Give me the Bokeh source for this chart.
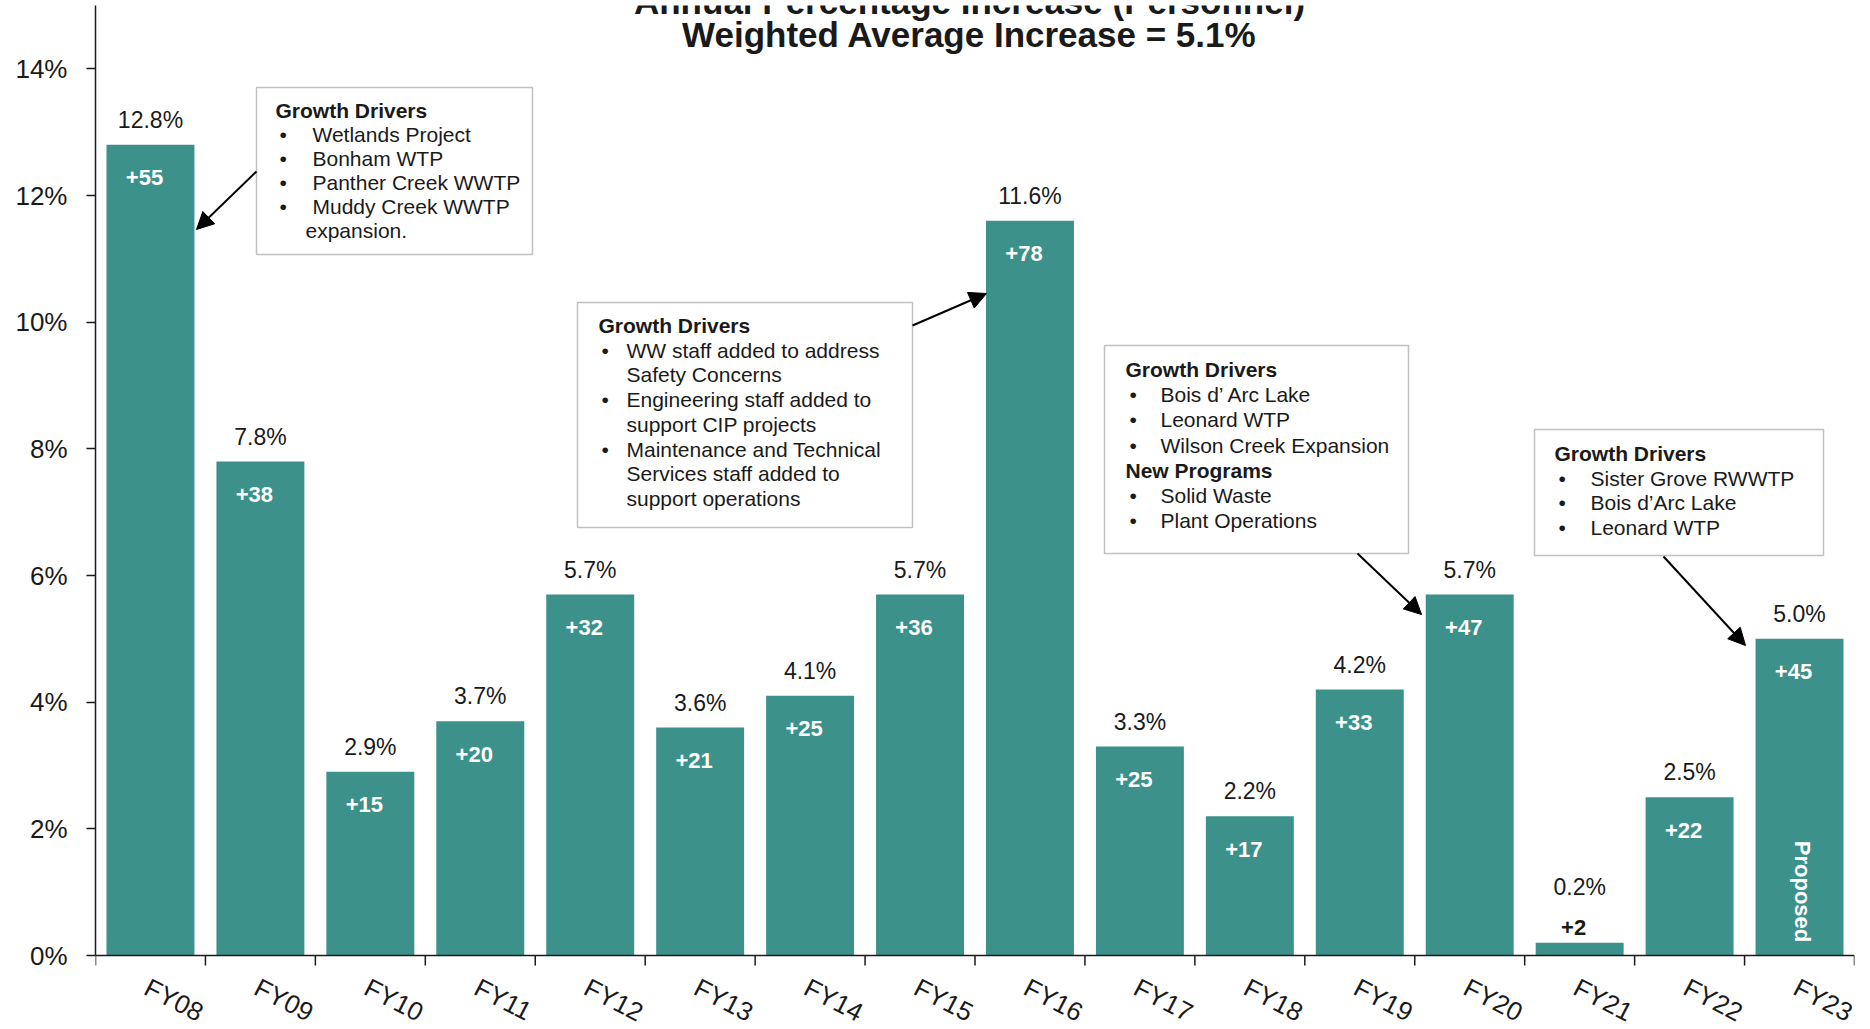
from math import pi

import numpy as np
from bokeh.core.properties import value
from bokeh.embed import file_html
from bokeh.models import (Arrow, BoxAnnotation, ColumnDataSource, FixedTicker,
                          Label, NormalHead, Range1d, Span)
from bokeh.plotting import figure
from bokeh.resources import INLINE

# ---- data -----------------------------------------------------------------
years = ["FY08", "FY09", "FY10", "FY11", "FY12", "FY13", "FY14", "FY15",
         "FY16", "FY17", "FY18", "FY19", "FY20", "FY21", "FY22", "FY23"]
pct_increase = [12.8, 7.8, 2.9, 3.7, 5.7, 3.6, 4.1, 5.7,
                11.6, 3.3, 2.2, 4.2, 5.7, 0.2, 2.5, 5.0]
staff_added = [55, 38, 15, 20, 32, 21, 25, 36, 78, 25, 17, 33, 47, 2, 22, 45]
y_ticks = [0, 2, 4, 6, 8, 10, 12, 14]
y_tick_labels = ["0%", "2%", "4%", "6%", "8%", "10%", "12%", "14%"]

title_line1 = "Annual Percentage Increase (Personnel)"
title_line2 = "Weighted Average Increase = 5.1%"
proposed_text = "Proposed"

box_fy08 = [("h", "Growth Drivers"), ("b", "Wetlands Project"), ("b", "Bonham WTP"),
            ("b", "Panther Creek WWTP"), ("b", "Muddy Creek WWTP"), ("c", "expansion.")]
box_fy16 = [("h", "Growth Drivers"), ("b", "WW staff added to address"),
            ("c", "Safety Concerns"), ("b", "Engineering staff added to"),
            ("c", "support CIP projects"), ("b", "Maintenance and Technical"),
            ("c", "Services staff added to"), ("c", "support operations")]
box_fy20 = [("h", "Growth Drivers"), ("b", "Bois d\u2019 Arc Lake"), ("b", "Leonard WTP"),
            ("b", "Wilson Creek Expansion"), ("h", "New Programs"),
            ("b", "Solid Waste"), ("b", "Plant Operations")]
box_fy23 = [("h", "Growth Drivers"), ("b", "Sister Grove RWWTP"),
            ("b", "Bois d\u2019Arc Lake"), ("b", "Leonard WTP")]

# ---- layout ---------------------------------------------------------------
W, H = 1870, 1029
FL, FR, FT = 95, 1854, 5      # plot area edges (pixels)
BASE = 955                    # pixel row of the 0% baseline
Y_MAX = 15
FONT = "Liberation Sans"
BAR = "#3c918a"
INK = "#1a1a1a"
n = len(years)


def px_x(px):
    return (px - FL) / (FR - FL) * n


def px_y(py):
    return (BASE - py) / (BASE - FT) * Y_MAX


# the plot area runs to the bottom of the canvas so the category names
# (drawn as text below the baseline) stay visible
p = figure(width=W, height=H, output_backend="svg", toolbar_location=None,
           x_range=Range1d(0, n), y_range=Range1d(px_y(H), Y_MAX),
           x_axis_location=None,
           min_border_left=FL, min_border_right=W - FR,
           min_border_top=FT, min_border_bottom=0)
p.outline_line_color = None
p.xgrid.grid_line_color = None
p.ygrid.grid_line_color = None
p.background_fill_color = "white"
p.border_fill_color = "white"

centers = np.arange(n) + 0.5
short = [v < 1 for v in pct_increase]
src = ColumnDataSource(dict(
    x=centers,
    top=pct_increase,
    pct=[f"{v:.1f}%" for v in pct_increase],
    cnt=[f"+{c}" for c in staff_added],
    pct_off=[-56 if s else -25 for s in short],
    cnt_off=[-15 if s else 33 for s in short],
    cnt_col=[INK if s else "white" for s in short],
))

p.vbar(x="x", top="top", width=0.8, bottom=0, source=src,
       fill_color=BAR, line_color=None)

p.text(x="x", y="top", text="pct", y_offset="pct_off", source=src,
       text_font=value(FONT), text_font_size="23px", text_color=INK,
       text_align="center", text_baseline="middle")
p.text(x="x", y="top", text="cnt", y_offset="cnt_off", x_offset=-6, source=src,
       text_font=value(FONT), text_font_size="22px", text_font_style="bold",
       text_color="cnt_col", text_align="center", text_baseline="middle")
p.text(x=[centers[-1]], y=[0], text=[proposed_text], angle=-pi / 2,
       x_offset=3, y_offset=-64,
       text_font=value(FONT), text_font_size="22px", text_font_style="bold",
       text_color="white", text_align="center", text_baseline="middle")

# ---- category axis: baseline, boundary ticks, slanted names ---------------
p.add_layout(Span(location=0, dimension="width", line_color=INK,
                  line_width=1.5))
bounds = np.arange(n + 1)
p.segment(x0=bounds, x1=bounds, y0=0, y1=px_y(BASE + 10),
          line_color=INK, line_width=1.5)
p.text(x=centers, y=px_y(985), text=years, x_offset=-4, angle=-0.48,
       text_font=value(FONT), text_font_size="26px", text_color=INK,
       text_align="left", text_baseline="middle")

# ---- value axis -----------------------------------------------------------
ya = p.yaxis[0]
ya.bounds = (0, Y_MAX)
ya.ticker = FixedTicker(ticks=y_ticks, minor_ticks=[])
ya.major_label_overrides = {t: s for t, s in zip(y_ticks, y_tick_labels)}
ya.major_tick_line_color = INK
ya.major_tick_line_width = 1.5
ya.major_tick_out = 9
ya.major_tick_in = 0
ya.axis_line_color = INK
ya.axis_line_width = 1.5
ya.major_label_standoff = 19
ya.major_label_text_font = FONT
ya.major_label_text_font_size = "26px"
ya.major_label_text_color = INK

# ---- titles ---------------------------------------------------------------
for txt, mid in ((title_line1, 1), (title_line2, 34)):
    p.add_layout(Label(x=px_x(969), y=px_y(mid), text=txt,
                       text_font=FONT, text_font_size="35px",
                       text_font_style="bold", text_color=INK,
                       text_align="center", text_baseline="middle"))


# ---- call-out boxes -------------------------------------------------------
def callout(lines, box, x_head, x_bullet, x_text, x_cont, y_first, step,
            arrow_from, arrow_to):
    left, top, right, bottom = box
    p.add_layout(BoxAnnotation(left=px_x(left), right=px_x(right),
                               top=px_y(top), bottom=px_y(bottom),
                               fill_color="white", fill_alpha=1,
                               line_color="#333333", line_width=1.5,
                               level="annotation"))
    for i, (kind, txt) in enumerate(lines):
        yy = px_y(y_first + i * step)
        common = dict(y=yy, text_font=FONT, text_font_size="21px",
                      text_color=INK, text_baseline="middle",
                      text_align="left")
        if kind == "h":
            p.add_layout(Label(x=px_x(x_head), text=txt,
                               text_font_style="bold", **common))
        elif kind == "b":
            p.add_layout(Label(x=px_x(x_bullet), text="\u2022", **common))
            p.add_layout(Label(x=px_x(x_text), text=txt, **common))
        else:
            p.add_layout(Label(x=px_x(x_cont), text=txt, **common))
    p.add_layout(Arrow(x_start=px_x(arrow_from[0]), y_start=px_y(arrow_from[1]),
                       x_end=px_x(arrow_to[0]), y_end=px_y(arrow_to[1]),
                       line_color="black", line_width=2,
                       end=NormalHead(size=17, fill_color="black",
                                      line_color="black")))


callout(box_fy08, (256, 87, 532, 254), 275, 279, 312, 305, 110, 24,
        (256, 171), (196, 229))
callout(box_fy16, (577, 302, 912, 527), 598, 601, 626, 626, 325, 24.7,
        (912, 325), (986, 293))
callout(box_fy20, (1104, 345, 1408, 553), 1125, 1129, 1160, 1160, 369, 25.2,
        (1357, 553), (1421, 614))
callout(box_fy23, (1534, 429, 1823, 555), 1554, 1558, 1590, 1590, 453, 24.7,
        (1663, 556), (1745, 645))

open("out.html", "w").write(file_html(p, INLINE))
